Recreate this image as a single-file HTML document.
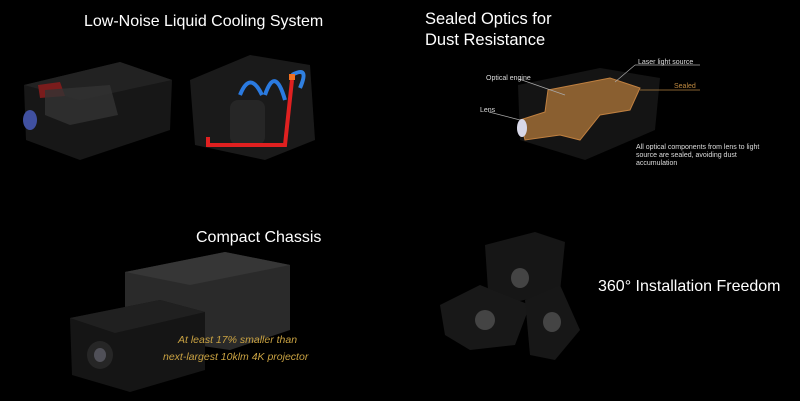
<!DOCTYPE html>
<html><head><meta charset="utf-8"><style>
html,body{margin:0;padding:0;background:#000;}
body{width:800px;height:401px;overflow:hidden;}
svg{display:block}
text{font-family:"Liberation Sans",sans-serif;}
</style></head><body>
<svg width="800" height="401" viewBox="0 0 800 401">
<rect width="800" height="401" fill="#000"/>

<!-- projector 1 -->
<polygon points="24,85 120,62 172,80 170,130 80,160 26,140" fill="#171717"/>
<polygon points="24,85 120,62 172,80 80,100" fill="#222"/>
<polygon points="38,85 60,82 65,96 40,98" fill="#7a1c1c"/>
<polygon points="45,90 110,85 118,115 70,125 45,115" fill="#333" opacity="0.8"/>
<ellipse cx="30" cy="120" rx="7" ry="10" fill="#4050a0"/>
<!-- cooling -->
<polygon points="190,80 250,55 310,65 315,140 265,160 195,145" fill="#1a1a1a"/>
<rect x="230" y="100" width="35" height="45" rx="8" fill="#262626"/>
<path d="M208,137 L208,145 L285,145 L292,80" stroke="#e02020" stroke-width="4" fill="none"/>
<path d="M240,95 Q250,70 262,95 M265,95 Q275,65 285,100" stroke="#2a7ae0" stroke-width="4" fill="none"/>
<path d="M292,75 Q310,65 300,88" stroke="#3080e0" stroke-width="4" fill="none"/>
<rect x="289" y="74" width="6" height="6" fill="#f07020"/>

<!-- sealed optics -->
<polygon points="518,85 600,68 660,78 655,130 585,160 520,140" fill="#141414"/>
<polygon points="548,90 610,78 640,88 630,110 600,115 580,140 560,135 525,140 520,120 545,112" fill="#8a5f30" stroke="#c08040" stroke-width="1"/>
<ellipse cx="522" cy="128" rx="5" ry="9" fill="#d8d8e8"/>
<g stroke="#aaa" stroke-width="0.7" fill="none">
<line x1="489" y1="112" x2="520" y2="120"/><line x1="519" y1="79" x2="565" y2="95"/>
<line x1="635" y1="65" x2="700" y2="65"/><line x1="635" y1="65" x2="615" y2="82"/>
</g>
<path d="M640,90 L700,90" stroke="#b08040" stroke-width="0.8" fill="none"/>
<text x="480" y="112" fill="#ddd" font-size="7">Lens</text>
<text x="486" y="80" fill="#ddd" font-size="7">Optical engine</text>
<text x="638" y="64" fill="#ddd" font-size="7">Laser light source</text>
<text x="674" y="88" fill="#c08a40" font-size="7">Sealed</text>
<text x="636" y="149" fill="#ddd" font-size="7">All optical components from lens to light</text>
<text x="636" y="157" fill="#ddd" font-size="7">source are sealed, avoiding dust</text>
<text x="636" y="165" fill="#ddd" font-size="7">accumulation</text>

<!-- compact chassis -->
<polygon points="125,272 225,252 290,265 290,330 230,350 125,335" fill="#2a2a2a"/>
<polygon points="125,272 225,252 290,265 190,285" fill="#363636"/>
<polygon points="70,318 160,300 205,312 205,370 130,392 72,375" fill="#151515"/>
<polygon points="70,318 160,300 205,312 115,333" fill="#202020"/>
<ellipse cx="100" cy="355" rx="13" ry="14" fill="#262626"/>
<ellipse cx="100" cy="355" rx="6" ry="7" fill="#505058"/>

<!-- 360 -->
<polygon points="485,245 535,232 565,242 560,292 515,302 488,290" fill="#161616"/>
<ellipse cx="520" cy="278" rx="9" ry="10" fill="#444"/>
<polygon points="440,305 480,285 530,305 515,345 470,350 445,335" fill="#181818"/>
<ellipse cx="485" cy="320" rx="10" ry="10" fill="#444"/>
<polygon points="525,300 560,285 580,330 555,360 530,355" fill="#171717"/>
<ellipse cx="552" cy="322" rx="9" ry="10" fill="#444"/>

<!-- titles -->
<text x="84" y="26" fill="#fff" font-size="16">Low-Noise Liquid Cooling System</text>
<text x="425" y="24" fill="#fff" font-size="16.5">Sealed Optics for</text>
<text x="425" y="45" fill="#fff" font-size="16.5">Dust Resistance</text>
<text x="196" y="242" fill="#fff" font-size="16">Compact Chassis</text>
<text x="598" y="291" fill="#fff" font-size="16">360° Installation Freedom</text>
<text x="178" y="343" fill="#c9a242" font-size="10.5" font-style="italic">At least 17% smaller than</text>
<text x="163" y="360" fill="#c9a242" font-size="10.5" font-style="italic">next-largest 10klm 4K projector</text>
</svg>
</body></html>
